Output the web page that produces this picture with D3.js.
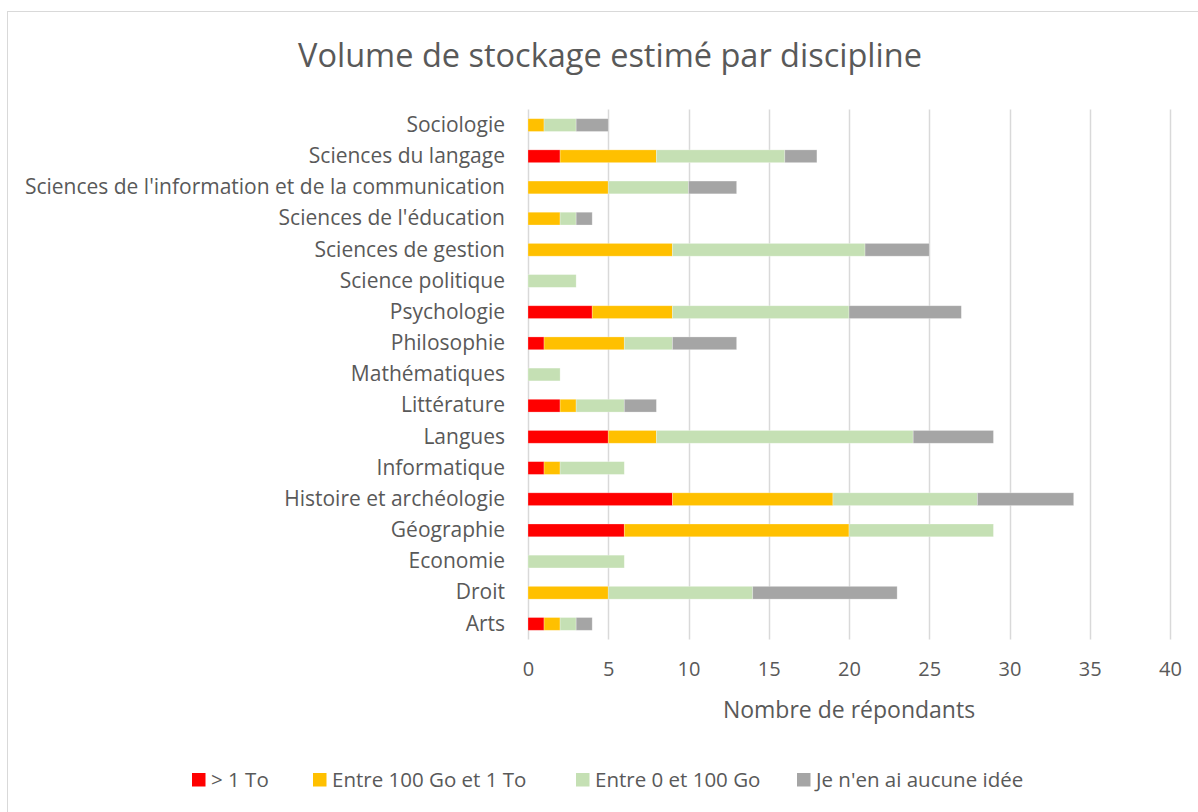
<!DOCTYPE html>
<html>
<head>
<meta charset="utf-8">
<script src="https://cdn.jsdelivr.net/npm/d3@7/dist/d3.min.js"></script>
<style>
  html, body { margin: 0; padding: 0; background: #fff; }
  svg { display: block; }
  svg text { font-family: "Open Sans", sans-serif; }
</style>
</head>
<body>
<svg id="chart" width="1198" height="812"></svg>
<script>
// categories, top to bottom as shown
const disciplines = [
  "Sociologie",
  "Sciences du langage",
  "Sciences de l'information et de la communication",
  "Sciences de l'éducation",
  "Sciences de gestion",
  "Science politique",
  "Psychologie",
  "Philosophie",
  "Mathématiques",
  "Littérature",
  "Langues",
  "Informatique",
  "Histoire et archéologie",
  "Géographie",
  "Economie",
  "Droit",
  "Arts"
];

const seriesNames = ["> 1 To", "Entre 100 Go et 1 To", "Entre 0 et 100 Go", "Je n'en ai aucune idée"];
const seriesColors = ["#ff0000", "#ffc000", "#c5e0b4", "#a5a5a5"];

const plusDe1To   = [0, 2, 0, 0, 0, 0, 4, 1, 0, 2, 5, 1, 9, 6, 0, 0, 1];
const de100Goa1To = [1, 6, 5, 2, 9, 0, 5, 5, 0, 1, 3, 1, 10, 14, 0, 5, 1];
const de0a100Go   = [2, 8, 5, 1, 12, 3, 11, 3, 2, 3, 16, 4, 9, 9, 6, 9, 1];
const aucuneIdee  = [2, 2, 3, 1, 4, 0, 7, 4, 0, 2, 5, 0, 6, 0, 0, 9, 1];

const xTicks = [0, 5, 10, 15, 20, 25, 30, 35, 40];

const rows = disciplines.map((d, i) => ({
  discipline: d,
  s0: plusDe1To[i], s1: de100Goa1To[i], s2: de0a100Go[i], s3: aucuneIdee[i]
}));

const svg = d3.select("#chart");
const textColor = "#595959";
const fontFamily = "'Open Sans', sans-serif";

// chart border
svg.append("rect")
  .attr("x", 7.5).attr("y", 11.5)
  .attr("width", 1300).attr("height", 900)
  .attr("fill", "none").attr("stroke", "#d9d9d9");

const plot = { left: 528, right: 1170, top: 109.5, bottom: 639.5 };

const x = d3.scaleLinear().domain([0, 40]).range([plot.left, plot.right]);
const y = d3.scaleBand().domain(disciplines).range([plot.top, plot.bottom]).paddingInner(0.59).paddingOuter(0.295);

// gridlines
svg.append("g")
  .selectAll("line")
  .data(xTicks)
  .join("line")
  .attr("x1", d => Math.round(x(d)) + 0.5)
  .attr("x2", d => Math.round(x(d)) + 0.5)
  .attr("y1", plot.top)
  .attr("y2", plot.bottom)
  .attr("stroke", "#d9d9d9")
  .attr("stroke-width", 1.5);

// stacked bars
const stack = d3.stack().keys(["s0", "s1", "s2", "s3"]);
const layers = stack(rows);

svg.append("g")
  .selectAll("g")
  .data(layers)
  .join("g")
  .attr("fill", (d, i) => seriesColors[i])
  .selectAll("rect")
  .data(d => d.filter(p => p[1] > p[0]))
  .join("rect")
  .attr("x", p => x(p[0]))
  .attr("width", p => x(p[1]) - x(p[0]))
  .attr("y", p => y(p.data.discipline))
  .attr("height", y.bandwidth())
  .attr("stroke", "#ffffff")
  .attr("stroke-opacity", 0.35)
  .attr("stroke-width", 0.75);

// x axis labels
const xAxis = svg.append("g")
  .attr("transform", `translate(0,${plot.bottom})`)
  .attr("font-family", fontFamily)
  .call(d3.axisBottom(x).tickValues(xTicks).tickSize(0).tickPadding(22));
xAxis.select(".domain").remove();
xAxis.selectAll("text")
  .attr("fill", textColor)
  .style("font-size", "20px");

// y axis labels
const yAxis = svg.append("g")
  .attr("transform", `translate(${plot.left},0)`)
  .attr("font-family", fontFamily)
  .call(d3.axisLeft(y).tickSize(0).tickPadding(23));
yAxis.select(".domain").remove();
yAxis.selectAll("text")
  .attr("fill", textColor)
  .style("font-size", "21px");

// title
svg.append("text")
  .attr("x", 610).attr("y", 67)
  .attr("text-anchor", "middle")
  .attr("fill", textColor)
  .style("font-size", "32.5px")
  .text("Volume de stockage estimé par discipline");

// axis title
svg.append("text")
  .attr("x", (plot.left + plot.right) / 2).attr("y", 718)
  .attr("text-anchor", "middle")
  .attr("fill", textColor)
  .style("font-size", "23px")
  .text("Nombre de répondants");

// legend
const legendX = [192, 313, 576, 797];
const legend = svg.append("g")
  .selectAll("g")
  .data(seriesNames)
  .join("g")
  .attr("transform", (d, i) => `translate(${legendX[i]},773)`);
legend.append("rect")
  .attr("width", 13.5).attr("height", 13.5)
  .attr("fill", (d, i) => seriesColors[i]);
legend.append("text")
  .attr("x", 19).attr("y", 14)
  .attr("fill", textColor)
  .style("font-size", "20.5px")
  .text(d => d);
</script>
</body>
</html>
